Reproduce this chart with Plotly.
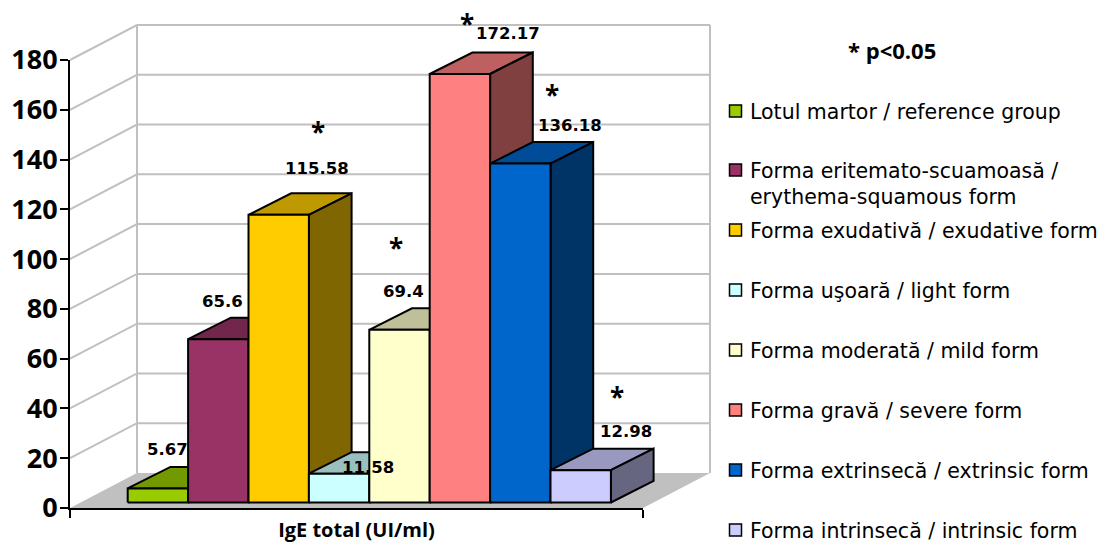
import plotly.graph_objects as go

# Serum IgE by clinical form
category_title = "IgE total (UI/ml)"
series_values = [5.67, 65.6, 115.58, 11.58, 69.4, 172.17, 136.18, 12.98]
value_labels = ["5.67", "65.6", "115.58", "11.58", "69.4", "172.17", "136.18", "12.98"]
series_names = [
    "Lotul martor / reference group",
    "Forma eritemato-scuamoasă /<br>erythema-squamous form",
    "Forma exudativă / exudative form",
    "Forma uşoară / light form",
    "Forma moderată / mild form",
    "Forma gravă / severe form",
    "Forma extrinsecă / extrinsic form",
    "Forma intrinsecă / intrinsic form",
]
series_colors = ["#99CC00", "#993366", "#FFCC00", "#CCFFFF", "#FFFFCC", "#FF8080", "#0066CC", "#CCCCFF"]
significant = [False, False, True, False, True, True, True, True]
y_ticks = [0, 20, 40, 60, 80, 100, 120, 140, 160, 180]

# Hand-placed label offsets (px) from the top centre of each bar's front face
label_offsets = [(10, 39), (4, 38), (38, 46), (29, 6), (4, 38), (48, 40), (50, 38), (45, 39)]
star_offsets = [None, None, (39, 86), None, (-4, 85), (7, 53), (32, 72), (36, 76)]

# Frame of the visible axes on the page, in px
LEFT, RIGHT, TOP, BOTTOM = 70, 643, 60, 508
# Larger frame holding the walls and bars, which rise and run past the axes
OUTER_RIGHT, OUTER_TOP = 720, 10
PX_X = RIGHT - LEFT          # px per x unit
PX_Y = (BOTTOM - TOP) / 180  # px per y unit

# Oblique projection: the depth direction as axis offsets
WALL_DX, WALL_DY = 67 / PX_X, 35 / PX_Y
FRONT_DY = 5.5 / PX_Y
BAR_DX, BAR_DY = 42.7 / PX_X, 21.5 / PX_Y
BAR_W = 60.4 / PX_X
GROUP_X0 = (127.7 - LEFT) / PX_X

GRID = "#C0C0C0"
LABEL_FONT = "DejaVu Sans"
AXIS_FONT = "Open Sans"


def shade(color, k):
    r, g, b = (int(color[i:i + 2], 16) for i in (1, 3, 5))
    return f"rgb({r * k:.0f},{g * k:.0f},{b * k:.0f})"


def face(xs, ys, color, name=None):
    return go.Scatter(
        x=xs, y=ys, xaxis="x2", yaxis="y2", mode="lines", fill="toself", fillcolor=color,
        line=dict(color="black", width=2),
        showlegend=False, name=name, hoverinfo="name" if name else "skip",
    )


def paper_x(px):
    return (px - LEFT) / (OUTER_RIGHT - LEFT)


def paper_y(py):
    return (BOTTOM - py) / (BOTTOM - OUTER_TOP)


fig = go.Figure()

# Holds the visible axes in place; the marks live on the larger hidden pair
fig.add_trace(go.Scatter(x=[0, 1], y=[0, 180], mode="none", showlegend=False, hoverinfo="skip"))

# Floor of the box
fig.add_trace(go.Scatter(
    x=[0, WALL_DX, 1 + WALL_DX, 1, 0], y=[0, WALL_DY, WALL_DY, 0, 0],
    xaxis="x2", yaxis="y2", mode="lines", fill="toself", fillcolor=GRID, line=dict(width=0),
    showlegend=False, hoverinfo="skip",
))

# Gridlines across the side wall and back wall, plus the wall edges
grid_x, grid_y = [], []
for t in y_ticks[1:]:
    grid_x += [0, WALL_DX, 1 + WALL_DX, None]
    grid_y += [t, t + WALL_DY, t + WALL_DY, None]
for edge in (WALL_DX, 1 + WALL_DX):
    grid_x += [edge, edge, None]
    grid_y += [WALL_DY, 180 + WALL_DY, None]
fig.add_trace(go.Scatter(
    x=grid_x, y=grid_y, xaxis="x2", yaxis="y2", mode="lines", line=dict(color=GRID, width=2),
    showlegend=False, hoverinfo="skip",
))

# Bars, painted left to right so each one covers its neighbour's side
annotations = []
for i, (value, color, name) in enumerate(zip(series_values, series_colors, series_names)):
    x0 = GROUP_X0 + i * BAR_W
    x1 = x0 + BAR_W
    y0 = FRONT_DY
    y1 = FRONT_DY + value
    fig.add_trace(face(
        [x0, x0 + BAR_DX, x1 + BAR_DX, x1, x0],
        [y1, y1 + BAR_DY, y1 + BAR_DY, y1, y1], shade(color, 0.75)))
    fig.add_trace(face(
        [x1, x1 + BAR_DX, x1 + BAR_DX, x1, x1],
        [y0, y0 + BAR_DY, y1 + BAR_DY, y1, y0], shade(color, 0.5)))
    fig.add_trace(face(
        [x0, x1, x1, x0, x0], [y0, y0, y1, y1, y0], color,
        name=name.replace("<br>", " ")))

    xc = (x0 + x1) / 2
    dx, dy = label_offsets[i]
    annotations.append(dict(
        x=xc, y=y1, xref="x2", yref="y2", text=value_labels[i], showarrow=False,
        xshift=dx, yshift=dy, font=dict(family=LABEL_FONT, size=16.5, color="black", weight="bold"),
    ))
    if significant[i]:
        sx, sy = star_offsets[i]
        annotations.append(dict(
            x=xc, y=y1, xref="x2", yref="y2", text="*", showarrow=False,
            xshift=sx, yshift=sy - 3, font=dict(family=AXIS_FONT, size=26, color="black", weight="bold"),
        ))

annotations.append(dict(
    x=paper_x(892), y=paper_y(50), xref="paper", yref="paper", text="* p<0.05",
    showarrow=False, xanchor="center", yanchor="middle",
    font=dict(family=AXIS_FONT, size=22, color="black", weight="bold"),
))

# Key on the right: swatch and text for each series
key_rows = [112, 171, 231, 291, 351, 411, 471, 531]
shapes = []
for name, color, row in zip(series_names, series_colors, key_rows):
    shapes.append(dict(
        type="rect", xref="paper", yref="paper",
        x0=paper_x(729.5), x1=paper_x(741.5), y0=paper_y(row + 5), y1=paper_y(row - 7),
        fillcolor=color, line=dict(color="black", width=1.5),
    ))
    for j, text in enumerate(name.split("<br>")):
        annotations.append(dict(
            x=paper_x(748), y=paper_y(row + j * 26), xref="paper", yref="paper",
            text=text, showarrow=False, xanchor="left", yanchor="middle",
            font=dict(family=LABEL_FONT, size=20.5, color="black"),
        ))

hidden_axis = dict(visible=False, showgrid=False, zeroline=False, fixedrange=True)

fig.update_layout(
    width=1100, height=543, autosize=False,
    margin=dict(l=LEFT, r=1100 - OUTER_RIGHT, t=OUTER_TOP, b=543 - BOTTOM, pad=0),
    paper_bgcolor="white", plot_bgcolor="white", showlegend=False,
    annotations=annotations, shapes=shapes,
    xaxis=dict(
        domain=[0, paper_x(RIGHT)], range=[0, 1], automargin=False,
        tickmode="array", tickvals=[0, 1], ticktext=["", ""],
        ticks="outside", ticklen=8, tickwidth=2, tickcolor="black",
        showline=True, linecolor="black", linewidth=2, showgrid=False, zeroline=False,
        title=dict(text=category_title, standoff=14,
                   font=dict(family=AXIS_FONT, size=20, color="black", weight="bold")),
    ),
    yaxis=dict(
        domain=[0, paper_y(TOP)], range=[0, 180], automargin=False,
        tickmode="array", tickvals=y_ticks, ticklabelstandoff=-3,
        ticks="outside", ticklen=8, tickwidth=2, tickcolor="black",
        showline=True, linecolor="black", linewidth=2, showgrid=False, zeroline=False,
        tickfont=dict(family=AXIS_FONT, size=27, color="black", weight="bold"),
    ),
    xaxis2=dict(domain=[0, 1], range=[0, (OUTER_RIGHT - LEFT) / PX_X], anchor="y2", **hidden_axis),
    yaxis2=dict(domain=[0, 1], range=[0, (BOTTOM - OUTER_TOP) / PX_Y], anchor="x2", **hidden_axis),
)

fig.write_html("out.html", config=dict(displayModeBar=False))
